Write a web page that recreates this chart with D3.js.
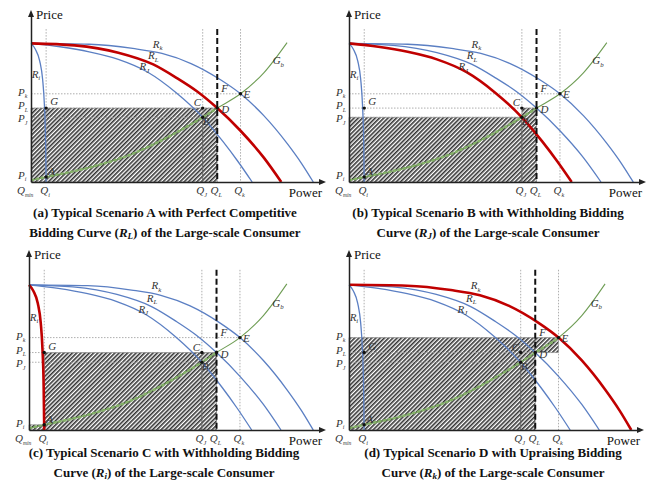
<!DOCTYPE html>
<html>
<head>
<meta charset="utf-8">
<script src="https://cdn.jsdelivr.net/npm/d3@7"></script>
<style>
body { margin: 0; background: #fff; }
svg { display: block; }
.lbl { font-family: "Liberation Serif", "Times New Roman", Times, serif; font-style: italic; font-size: 11px; fill: #333; }
.cap { font-family: "Liberation Serif", "Times New Roman", Times, serif; font-weight: bold; font-size: 13px; fill: #111; }
.axt { font-family: "Liberation Serif", "Times New Roman", Times, serif; font-size: 13px; fill: #111; }
</style>
</head>
<body>
<svg id="chart" width="655" height="482"></svg>
<script>
// quantities and prices (Q and P both on a 0..100 scale)
var qNames = ["min", "i", "J", "L", "k"];
var qVals = [0, 5.2, 59, 64, 72];
var pNames = ["k", "L", "J", "i"];
var pVals = [52.5, 44, 38.5, 3];

// bidding curves and generator curve
var rk = [[0,82.5],[20,82],[35,79.5],[45,76.5],[55,70.5],[65,61],[72,52.5],[80,39.5],[88,23],[93,11],[97,0]];
var rl = [[0,82.5],[15,81.3],[30,77],[42,70],[50,62],[57,54],[64,44],[72,30.5],[80,14.5],[86,0]];
var rj = [[0,82.5],[10,80.5],[20,77.5],[30,73],[40,65.5],[50,53],[59,38.5],[66,24],[71,12.5],[76,0]];
var ri = [[0,82.5],[1.5,79],[3,72],[4,61],[4.6,46],[5,25],[5.2,0]];
var gb = [[0,1],[5.2,3],[15,6.5],[24,10.5],[33,15.5],[41,21.5],[50,29.5],[59,38.5],[64,44],[72,52.5],[80,65],[88,83]];

var panelKeys = ["a", "b", "c", "d"];
var boldCurve = ["L", "J", "i", "k"];
var capLine1 = ["(a) Typical Scenario A with Perfect Competitive",
                "(b) Typical Scenario B with Withholding Bidding",
                "(c) Typical Scenario C with Withholding Bidding",
                "(d) Typical Scenario D with Upraising Bidding"];
var capPre = ["Bidding Curve (", "Curve (", "Curve (", "Curve ("];
var capPost = ") of the Large-scale Consumer";

var curves = {k: rk, L: rl, J: rj, i: ri};
var curveLabelAt = {k: [43.5, 80], L: [42, 73], J: [39, 66.5], i: [1.7, 62]};

var BLUE = "#5b7fc3", RED = "#c00000", GREEN = "#6f9d55";

var boxes = [
	{x0: 31, x1: 322, y0: 182, y1: 14, cx: 165, cy: 217},
	{x0: 349, x1: 642, y0: 182, y1: 14, cx: 488, cy: 217},
	{x0: 29, x1: 322, y0: 430, y1: 254, cx: 164, cy: 457},
	{x0: 349, x1: 640, y0: 430, y1: 254, cx: 493, cy: 457}
];

var svg = d3.select("#chart");
var defs = svg.append("defs");
defs.append("pattern")
	.attr("id", "hatch")
	.attr("width", 3).attr("height", 3)
	.attr("patternUnits", "userSpaceOnUse")
	.attr("patternTransform", "rotate(45)")
	.append("rect")
	.attr("width", 1.6).attr("height", 3)
	.attr("fill", "#333");

function q(n) { return qVals[qNames.indexOf(n)]; }
function p(n) { return pVals[pNames.indexOf(n)]; }

function subText(g, x, y, main, s, anchor, size) {
	size = size || 11;
	var t = g.append("text").attr("class", "lbl")
		.attr("x", x).attr("y", y)
		.attr("font-size", size + "px")
		.attr("text-anchor", anchor || "start");
	t.append("tspan").text(main);
	t.append("tspan").attr("font-size", (s.length > 1 ? 5.5 : size * 0.62) + "px").attr("dy", "2.5").text(s);
	return t;
}

panelKeys.forEach(function(key, idx) {
	var b = boxes[idx];
	var g = svg.append("g").attr("class", "panel-" + key);

	var x = d3.scaleLinear().domain([0, 100]).range([b.x0, b.x1]);
	var y = d3.scaleLinear().domain([0, 100]).range([b.y0, b.y1]);

	var QL = q("L"), QJ = q("J"), Qk = q("k"), Qi = q("i");
	var PL = p("L"), PJ = p("J"), Pk = p("k"), Pi = p("i");

	// hatched area
	var poly;
	if (key == "a") poly = [[0,0],[0,PL],[QL,PL],[QL,0]];
	if (key == "b") poly = [[0,0],[0,PJ],[QJ,PJ],[QJ,PL],[QL,PL],[QL,0]];
	if (key == "c") poly = [[0,0],[0,Pi],[Qi,Pi],[Qi,PL],[QL,PL],[QL,0]];
	if (key == "d") poly = [[0,0],[0,Pk],[Qk,Pk],[Qk,PL],[QL,PL],[QL,0]];

	var polyLine = d3.line().x(function(d) { return x(d[0]); }).y(function(d) { return y(d[1]); });
	defs.append("clipPath").attr("id", "clip-" + key)
		.append("path").attr("d", polyLine(poly) + "Z");
	g.append("path")
		.attr("d", polyLine(poly) + "Z")
		.attr("fill", "url(#hatch)")
		.attr("stroke", "#777").attr("stroke-width", 0.5);

	// dotted guides
	var vTop = 91;
	[Qi, QJ, Qk].forEach(function(v) {
		g.append("line")
			.attr("x1", x(v)).attr("x2", x(v))
			.attr("y1", y(vTop)).attr("y2", y(0))
			.attr("stroke", "#999").attr("stroke-width", 0.8)
			.attr("stroke-dasharray", "1.5,1.5");
	});
	[[Pk, Qk], [PL, QL], [PJ, QJ]].forEach(function(h) {
		g.append("line")
			.attr("x1", x(0)).attr("x2", x(h[1]))
			.attr("y1", y(h[0])).attr("y2", y(h[0]))
			.attr("stroke", "#999").attr("stroke-width", 0.8)
			.attr("stroke-dasharray", "1.5,1.5");
	});
	g.append("line")
		.attr("x1", x(QJ)).attr("x2", x(QJ))
		.attr("y1", y(PJ)).attr("y2", y(0))
		.attr("stroke", "#555").attr("stroke-width", 0.8);

	var line = d3.line()
		.x(function(d) { return x(d[0]); })
		.y(function(d) { return y(d[1]); })
		.curve(d3.curveMonotoneX);

	// generator curve, thin then dashed inside hatch
	g.append("path").datum(gb).attr("d", line)
		.attr("fill", "none").attr("stroke", GREEN).attr("stroke-width", 1.1);
	g.append("path").datum(gb).attr("d", line)
		.attr("clip-path", "url(#clip-" + key + ")")
		.attr("fill", "none").attr("stroke", "#86b26a").attr("stroke-width", 2.6)
		.attr("stroke-dasharray", "3,2");

	// bidding curves
	["k", "L", "J", "i"].forEach(function(c) {
		if (c == boldCurve[idx]) return;
		g.append("path").datum(curves[c]).attr("d", line)
			.attr("fill", "none").attr("stroke", BLUE).attr("stroke-width", 1.3);
	});
	g.append("path").datum(curves[boldCurve[idx]]).attr("d", line)
		.attr("fill", "none").attr("stroke", RED).attr("stroke-width", 2.6);

	// Q_L thick dashed line
	g.append("line")
		.attr("x1", x(QL)).attr("x2", x(QL))
		.attr("y1", y(vTop)).attr("y2", y(0))
		.attr("stroke", "#111").attr("stroke-width", 2)
		.attr("stroke-dasharray", "6,3");

	// axes
	var xAxis = d3.axisBottom(x).tickValues([]).tickSizeOuter(0);
	var yAxis = d3.axisLeft(y).tickValues([]).tickSizeOuter(0);
	g.append("g").attr("transform", "translate(0," + y(0) + ")").call(xAxis)
		.select(".domain").attr("stroke", "#222").attr("stroke-width", 1.5);
	g.append("g").attr("transform", "translate(" + x(0) + ",0)").call(yAxis)
		.select(".domain").attr("stroke", "#222").attr("stroke-width", 1.5);
	g.append("path")
		.attr("d", "M" + (x(100) + 4) + "," + y(0) + "l-7,-3v6z")
		.attr("fill", "#222");
	g.append("path")
		.attr("d", "M" + x(0) + "," + (y(100) - 4) + "l-3,7h6z")
		.attr("fill", "#222");

	g.append("text").attr("class", "axt")
		.attr("x", x(0) + 5).attr("y", y(100) + 5).text("Price");
	g.append("text").attr("class", "axt")
		.attr("x", x(100)).attr("y", y(0) + 15)
		.attr("text-anchor", "end").text("Power");

	// tick labels
	var pOff = {k: 2, L: 1, J: 5, i: 2};
	pNames.forEach(function(n, i) {
		subText(g, x(0) - 13, y(pVals[i]) + pOff[n], "P", n, "start", 9.5);
	});
	qNames.forEach(function(n, i) {
		if (n == "min") {
			subText(g, x(0) - 14, y(0) + 12, "Q", n, "start", 10);
		} else {
			subText(g, x(qVals[i]) - 1, y(0) + 12, "Q", n, "middle", 10);
		}
	});

	// curve labels
	["k", "L", "J", "i"].forEach(function(c) {
		var at = curveLabelAt[c];
		subText(g, x(at[0]), y(at[1]), "R", c, "middle");
	});
	subText(g, x(85), y(70), "G", "b", "middle");

	// points
	var pts = [["A", Qi, Pi, 2, -2], ["B", QJ, PJ, 0, 8], ["C", QJ, PL, -9, -2],
		["D", QL, PL, 4, 5], ["E", Qk, Pk, 3, 4], ["F", QL, Pk, 4, -2], ["G", Qi, PL, 4, -3]];
	pts.forEach(function(d) {
		if (d[0] != "F") {
			g.append("circle").attr("cx", x(d[1])).attr("cy", y(d[2]))
				.attr("r", 1.7).attr("fill", "#111");
		}
		g.append("text").attr("class", "lbl")
			.attr("x", x(d[1]) + d[3]).attr("y", y(d[2]) + d[4])
			.text(d[0]);
	});

	// caption
	g.append("text").attr("class", "cap")
		.attr("x", b.cx).attr("y", b.cy)
		.attr("text-anchor", "middle").text(capLine1[idx]);
	var t2 = g.append("text").attr("class", "cap")
		.attr("x", b.cx).attr("y", b.cy + 20)
		.attr("text-anchor", "middle");
	t2.append("tspan").text(capPre[idx]);
	t2.append("tspan").attr("font-style", "italic").text("R");
	t2.append("tspan").attr("font-style", "italic").attr("font-size", "9px").attr("dy", 2).text(boldCurve[idx]);
	t2.append("tspan").attr("dy", -2).text(capPost);
});
</script>
</body>
</html>
